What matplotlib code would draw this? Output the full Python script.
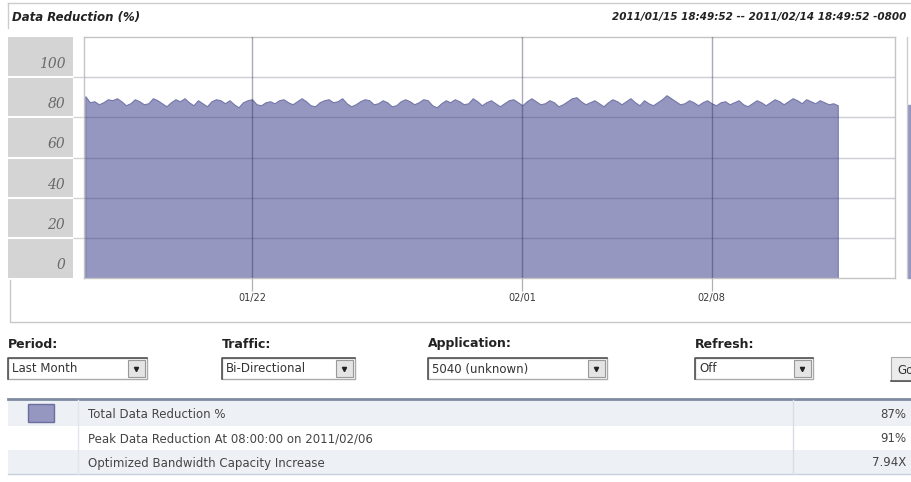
import matplotlib.pyplot as plt
import matplotlib.patches as mpatches
import numpy as np
import pandas as pd
from datetime import datetime

reduction = [
    90.5, 87.5, 88.0, 86.5, 87.5, 89.0,
    88.5, 89.5, 88.0, 86.0, 87.0, 89.0,
    88.0, 86.5, 87.0, 89.5, 88.5, 87.0,
    85.5, 87.5, 89.0, 88.0, 89.5, 87.5,
    86.0, 88.5, 87.0, 85.5, 88.0, 89.0,
    88.5, 87.0, 88.5, 86.5, 85.0, 87.5,
    88.5, 89.0, 86.5, 86.0, 87.5, 88.0,
    87.0, 88.5, 89.0, 87.5, 86.5, 88.0,
    89.5, 88.0, 86.0, 85.5, 87.5, 88.5,
    89.0, 87.5, 88.0, 89.5, 87.0, 85.5,
    86.5, 88.0, 89.0, 88.5, 86.5, 87.0,
    88.5, 87.5, 85.5, 86.0, 88.0, 89.0,
    88.0, 86.5, 87.5, 89.0, 88.5, 86.0,
    85.0, 87.0, 88.5, 87.5, 89.0, 88.0,
    86.5, 87.0, 89.5, 88.0, 86.0, 87.5,
    88.5, 87.0, 85.5, 87.0, 88.5, 89.0,
    87.5, 86.0, 88.0, 89.5, 88.0, 86.5,
    87.0, 88.5, 87.5, 85.5, 86.5, 88.0,
    89.5, 90.0, 88.0, 86.5, 87.5, 88.5,
    87.0, 85.5, 87.5, 89.0, 88.0, 86.5,
    88.0, 89.5, 87.5, 86.0, 88.5, 87.0,
    86.0, 87.5, 89.0, 91.0, 89.5, 88.0,
    86.5, 87.0, 88.5, 87.5, 86.0, 87.5,
    88.5, 87.0, 86.0, 87.5, 88.0, 86.5,
    87.5, 88.5, 86.5, 85.5, 87.0, 88.5,
    87.5, 86.0, 87.5, 89.0, 88.0, 86.5,
    88.0, 89.5, 88.5, 87.0, 89.0, 88.0,
    87.0, 88.5, 87.5, 86.5, 87.0, 86.0,
]
times = pd.date_range("2011-01-15 20:00", periods=len(reduction), freq="4h")

t_start = datetime(2011, 1, 15, 18, 49, 52)
t_end = datetime(2011, 2, 14, 18, 49, 52)
x_tick_dates = ["2011-01-22", "2011-02-01", "2011-02-08"]
x_tick_labels = ["01/22", "02/01", "02/08"]
y_ticks = [0, 20, 40, 60, 80, 100]

controls = ["Period:", "Traffic:", "Application:", "Refresh:"]
control_values = ["Last Month", "Bi-Directional", "5040 (unknown)", "Off"]

rows = ["Total Data Reduction %",
        "Peak Data Reduction At 08:00:00 on 2011/02/06",
        "Optimized Bandwidth Capacity Increase"]
row_values = ["87%", "91%", "7.94X"]

FILL = "#9597c1"
EDGE = "#7476a8"
W, H = 912, 482

fig = plt.figure(figsize=(W / 100, H / 100), dpi=100)


def px_axes(x0, y0, x1, y1):
    return fig.add_axes([x0 / W, 1 - y1 / H, (x1 - x0) / W, (y1 - y0) / H])


bg = px_axes(0, 0, W, H)
bg.set_xlim(0, W)
bg.set_ylim(H, 0)
bg.axis("off")
bg.set_zorder(0)

# header
bg.plot([8, W], [3, 3], color="#cccccc", lw=1)
bg.plot([8, 8], [3, 28], color="#cccccc", lw=1)
bg.text(12, 17, "Data Reduction (%)", fontsize=8.5, style="italic",
        weight="bold", color="#222222", va="center")
bg.text(906, 17, "2011/01/15 18:49:52 -- 2011/02/14 18:49:52 -0800",
        fontsize=7.5, style="italic", weight="bold", color="#222222",
        va="center", ha="right")

# panel border + cut-off panel on the right
bg.plot([10, 10, W], [280, 322, 322], color="#c8c8c8", lw=1)
bg.plot([907, 907], [37, 278], color="#cccccc", lw=1)
bg.add_patch(mpatches.Rectangle((908, 105), 6, 173, color=FILL))

# main chart
ax = px_axes(84, 37, 895, 278)
ax.set_zorder(2)
ax.fill_between(times, reduction, 0, facecolor=FILL, edgecolor=EDGE, lw=0.8)
ax.set_xlim(t_start, t_end)
ax.set_ylim(0, 120)
ax.set_yticks(y_ticks[1:])
ax.tick_params(axis="y", length=0, labelleft=False)
ax.set_xticks(pd.to_datetime(x_tick_dates))
ax.set_xticklabels(x_tick_labels)
ax.tick_params(axis="x", length=9, width=0.9, color="#b0b0b0", pad=2,
               labelsize=7, labelcolor="#3a3a3a")
ax.set_axisbelow(False)
ax.grid(True, axis="y", color="#3a3a66", alpha=0.25, lw=1)
ax.grid(True, axis="x", color="#2a2a50", alpha=0.4, lw=1)
for s in ax.spines.values():
    s.set_color("#c4c4c4")
    s.set_linewidth(1)

# y label column
lab = px_axes(8, 37, 73, 278)
lab.set_zorder(2)
lab.set_facecolor("#d4d4d4")
lab.set_ylim(0, 120)
lab.set_xlim(0, 1)
lab.hlines(y_ticks[1:], 0, 1, color="white", lw=1.5)
lab.hlines(y_ticks[1:], 1, 1 + 11 / 65, color="#d4d4d4", lw=1,
           transform=lab.get_yaxis_transform(), clip_on=False)
for v in y_ticks:
    lab.text(0.88, v + 6.5, str(v), ha="right", va="center", fontsize=10,
             family="DejaVu Serif", style="italic", color="#6a6a6a")
lab.set_xticks([])
lab.set_yticks([])
for s in lab.spines.values():
    s.set_visible(False)

# controls row
ctrl_x = [8, 222, 428, 695]
ctrl_w = [139, 133, 179, 118]
for name, val, x0, w in zip(controls, control_values, ctrl_x, ctrl_w):
    bg.text(x0, 344, name, fontsize=9, weight="bold", color="#222222",
            va="center")
    bg.add_patch(mpatches.Rectangle((x0, 358), w, 21, facecolor="white",
                                    edgecolor="#aaaaaa", lw=1))
    bg.plot([x0, x0, x0 + w], [379, 358, 358], color="#555555", lw=1.2)
    bg.text(x0 + 4, 369, val, fontsize=8.5, color="#333333", va="center")
    bg.add_patch(mpatches.Rectangle((x0 + w - 19, 360), 17, 17,
                                    facecolor="#e4e4e4", edgecolor="#999999",
                                    lw=0.8))
    bg.plot(x0 + w - 10.5, 368.5, marker="v", ms=3, color="#222222")

bg.add_patch(mpatches.Rectangle((891, 357), 25, 24, facecolor="#ececec",
                                edgecolor="#aaaaaa", lw=0.8))
bg.plot([891, W], [381, 381], color="#555555", lw=1.2)
bg.text(897, 370, "Go", fontsize=8.5, color="#333333", va="center")

# summary table
row_top = [400, 426, 450]
row_bot = [426, 450, 474]
for i, (name, val) in enumerate(zip(rows, row_values)):
    y0, y1 = row_top[i], row_bot[i]
    bg.add_patch(mpatches.Rectangle((8, y0), W - 8, y1 - y0, lw=0,
                                    facecolor="#edf1f6" if i != 1 else "white"))
    yc = (y0 + y1) / 2 + 1
    bg.text(88, yc, name, fontsize=8.5, color="#444444", va="center")
    bg.text(906, yc, val, fontsize=8.5, color="#444444", va="center",
            ha="right")
bg.plot([8, W], [399, 399], color="#7d8aa0", lw=2)
bg.plot([8, W], [474, 474], color="#c8d0dc", lw=1)
bg.plot([793, 793], [400, 474], color="#d8dde5", lw=1)
bg.plot([78, 78], [400, 474], color="#e2e6ec", lw=1)
bg.add_patch(mpatches.Rectangle((28, 404), 26, 18, facecolor=FILL,
                                edgecolor="#6b6d9e", lw=1))

fig.savefig("out.png", dpi=100)
